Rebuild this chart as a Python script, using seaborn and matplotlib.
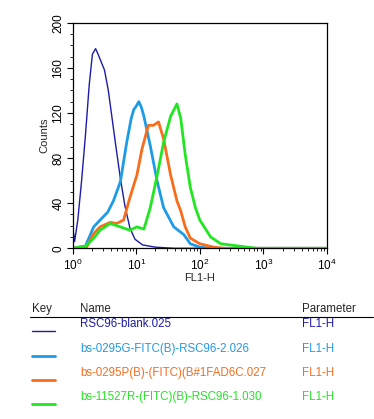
import numpy as np
import pandas as pd
import matplotlib
matplotlib.use("Agg")
import matplotlib.pyplot as plt
from matplotlib.lines import Line2D
from matplotlib.ticker import FixedLocator, NullFormatter, LogLocator
import seaborn as sns

sns.set_style("white")
plt.rcParams['font.family'] = ['Liberation Sans', 'DejaVu Sans']

# ---------------- data (FL1-H in log10 units, counts) ----------------
names = ["RSC96-blank.025",
         "bs-0295G-FITC(B)-RSC96-2.026",
         "bs-0295P(B)-(FITC)(B#1FAD6C.027",
         "bs-11527R-(FITC)(B)-RSC96-1.030"]
params = ["FL1-H", "FL1-H", "FL1-H", "FL1-H"]
colors = ["#1c1ca8", "#1e9be6", "#f76d1c", "#22e622"]
widths = [1.0, 2.0, 2.0, 2.0]

blank_log = [0, 0.03, 0.08, 0.14, 0.2, 0.26, 0.31, 0.36, 0.40, 0.45, 0.5, 0.56,
             0.62, 0.68, 0.75, 0.82, 0.9, 0.98, 1.1, 1.3, 1.6, 4.0]
blank_cnt = [19, 6, 25, 60, 100, 145, 172, 177, 172, 165, 158, 140,
             115, 90, 62, 38, 18, 8, 3, 1, 0, 0]

g295_log = [0, 0.2, 0.33, 0.43, 0.55, 0.64, 0.75, 0.85, 0.92, 0.96, 1.0, 1.04,
            1.08, 1.12, 1.22, 1.33, 1.43, 1.59, 1.75, 1.85, 2.0, 2.2, 4.0]
g295_cnt = [0, 2, 19, 25, 32, 42, 59, 94, 115, 123, 126, 130,
            125, 117, 91, 59, 36, 19, 12, 4, 1, 0, 0]

p295_log = [0, 0.22, 0.33, 0.43, 0.59, 0.69, 0.8, 0.9, 1.01, 1.09, 1.19, 1.27,
            1.35, 1.43, 1.54, 1.64, 1.7, 1.77, 1.85, 2.0, 2.22, 2.4, 4.0]
p295_cnt = [0, 1, 13, 19, 23, 22, 25, 45, 65, 88, 109, 109,
            112, 97, 65, 42, 33, 19, 9, 4, 1, 0, 0]

r11527_log = [0, 0.2, 0.33, 0.43, 0.59, 0.75, 0.9, 1.01, 1.12, 1.22, 1.33, 1.43,
              1.54, 1.64, 1.7, 1.77, 1.85, 1.93, 2.0, 2.17, 2.33, 2.75, 2.9, 4.0]
r11527_cnt = [0, 2, 9, 16, 22, 19, 16, 19, 17, 36, 65, 94,
              117, 128, 115, 83, 54, 36, 25, 10, 4, 1, 0, 0]

series = [(blank_log, blank_cnt), (g295_log, g295_cnt),
          (p295_log, p295_cnt), (r11527_log, r11527_cnt)]

frames = []
for i, (lx, c) in enumerate(series):
    frames.append(pd.DataFrame({"FL1": 10 ** np.array(lx, dtype=float),
                                "Counts": c, "name": names[i], "order": i}))
df = pd.concat(frames, ignore_index=True)

# ---------------- figure ----------------
W, H = 374, 419
fig = plt.figure(figsize=(W / 100, H / 100), dpi=100)
ax = fig.add_axes([72.7 / W, 1 - 248.3 / H, (327 - 72.7) / W, (248.3 - 22.7) / H])

for i in range(4):
    sub = df[df["order"] == i]
    sns.lineplot(data=sub, x="FL1", y="Counts", ax=ax, color=colors[i],
                 linewidth=widths[i], estimator=None, sort=False, legend=False)

ax.set_xscale("log")
ax.set_xlim(1, 1e4)
ax.set_ylim(0, 200)
ax.set_yticks([0, 40, 80, 120, 160, 200])
ax.yaxis.set_minor_locator(FixedLocator(np.arange(0, 201, 10)))
ax.xaxis.set_major_locator(LogLocator(base=10, numticks=10))
ax.xaxis.set_minor_locator(LogLocator(base=10, subs=np.arange(2, 10), numticks=20))
ax.xaxis.set_minor_formatter(NullFormatter())
ax.tick_params(axis="both", which="major", direction="out", length=4, width=0.8,
               labelsize=8.5, colors="black", bottom=True, left=True, pad=2)
ax.tick_params(axis="x", which="major", pad=3)
ax.tick_params(axis="both", which="minor", direction="out", length=2.5, width=0.7,
               bottom=True, left=True)
for lab in ax.get_yticklabels():
    lab.set_rotation(90)
    lab.set_va("center")
for s in ax.spines.values():
    s.set_visible(True)
    s.set_color("black")
    s.set_linewidth(0.9)
ax.set_xlabel("FL1-H", fontsize=8, labelpad=0)
ax.set_ylabel("Counts", fontsize=8, labelpad=2)

# ---------------- key table ----------------
def fy(y):
    return 1 - y / H

fs = 8.3
fig.text(32 / W, fy(309), "Key", fontsize=fs, va="center", ha="left")
fig.text(80 / W, fy(309), "Name", fontsize=fs, va="center", ha="left")
fig.text(302 / W, fy(309), "Parameter", fontsize=fs, va="center", ha="left")
fig.add_artist(Line2D([30 / W, 373 / W], [fy(317), fy(317)], color="black",
                      linewidth=0.8, transform=fig.transFigure))
row_y = [324, 349, 373, 397]
key_y = [331, 356, 380, 404]
for i in range(4):
    fig.text(80 / W, fy(row_y[i]), names[i], fontsize=fs, va="center",
             ha="left", color=colors[i])
    fig.text(302 / W, fy(row_y[i]), params[i], fontsize=fs, va="center",
             ha="left", color=colors[i])
    fig.add_artist(Line2D([32 / W, 55 / W], [fy(key_y[i]), fy(key_y[i])],
                          color=colors[i], linewidth=widths[i],
                          transform=fig.transFigure))

fig.savefig("out.png", dpi=100)
